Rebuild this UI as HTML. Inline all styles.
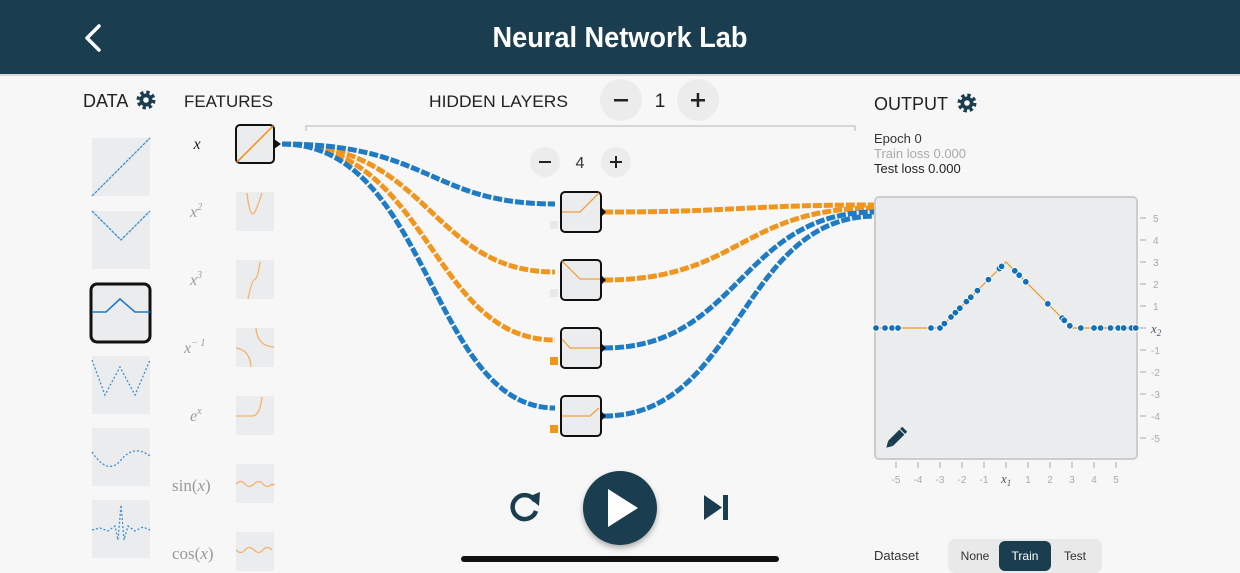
<!DOCTYPE html>
<html><head><meta charset="utf-8"><style>
html,body{margin:0;padding:0;background:#f7f7f7;}
svg{display:block;font-family:"Liberation Sans",sans-serif;}
.m{font-family:"Liberation Serif",serif;font-style:italic;fill:#999;font-size:16px;}
.t{font-size:10px;fill:#aaa;}
</style></head><body>
<svg width="1240" height="573" viewBox="0 0 1240 573" xmlns="http://www.w3.org/2000/svg">
<defs>
<g id="gear"><circle r="7.5" fill="none" stroke="#1a3d50" stroke-width="4" stroke-dasharray="3.2 2.7"/><circle r="6.5" fill="#1a3d50"/><circle r="2.8" fill="#f7f7f7"/></g>
</defs>
<rect width="1240" height="573" fill="#f7f7f7"/>
<rect width="1240" height="74" fill="#1a3d50"/>
<rect y="74" width="1240" height="2" fill="#d8d8d8"/>
<polyline points="99,26 87,38 99,50" fill="none" stroke="#fff" stroke-width="3.5" stroke-linecap="round" stroke-linejoin="round"/>
<text x="620" y="47" text-anchor="middle" fill="#fff" font-size="29" font-weight="600" textLength="255" lengthAdjust="spacingAndGlyphs">Neural Network Lab</text>

<text x="83" y="107" font-size="18" fill="#222">DATA</text>
<use href="#gear" x="146" y="100"/>
<text x="184" y="107" font-size="17" fill="#222" textLength="89" lengthAdjust="spacingAndGlyphs">FEATURES</text>
<text x="429" y="107" font-size="17" fill="#222" textLength="139" lengthAdjust="spacingAndGlyphs">HIDDEN LAYERS</text>
<circle cx="621" cy="100" r="21" fill="#ececec"/><rect x="614" y="99" width="14" height="2.5" fill="#222"/>
<text x="660" y="107" font-size="19" fill="#222" text-anchor="middle">1</text>
<circle cx="698" cy="100" r="21" fill="#ececec"/><rect x="691" y="99" width="14" height="2.5" fill="#222"/><rect x="696.7" y="93" width="2.5" height="14" fill="#222"/>
<polyline points="306,131 306,126 855,126 855,131" fill="none" stroke="#ccc" stroke-width="1.5"/>
<circle cx="545" cy="162" r="15" fill="#ececec"/><rect x="539" y="161" width="12" height="2" fill="#222"/>
<text x="580" y="168" font-size="16" fill="#333" text-anchor="middle">4</text>
<circle cx="616" cy="162" r="15" fill="#ececec"/><rect x="610" y="161" width="12" height="2" fill="#222"/><rect x="615" y="156" width="2" height="12" fill="#222"/>

<text x="874" y="110" font-size="18" fill="#222">OUTPUT</text>
<use href="#gear" x="967" y="103"/>
<text x="874" y="143" font-size="13" fill="#333">Epoch 0</text>
<text x="874" y="158" font-size="13" fill="#aaa">Train loss 0.000</text>
<text x="874" y="173" font-size="13" fill="#222">Test loss 0.000</text>

<g fill="#ebecee">
<rect x="92" y="138" width="58" height="58"/><rect x="92" y="211" width="58" height="58"/>
<rect x="92" y="356" width="58" height="58"/><rect x="92" y="428" width="58" height="58"/><rect x="92" y="500" width="58" height="58"/>
</g>
<rect x="91" y="284" width="59" height="58" rx="6" fill="#ebecee" stroke="#111" stroke-width="3"/>
<g fill="none" stroke="#3d8fd0" stroke-width="1.3" stroke-dasharray="3 1">
<polyline points="92,196 150,138"/>
<polyline points="92,211 121,240 150,211"/>
<polyline points="92,312 106,312 120,299 135,312 150,312" stroke="#1f7cc4" stroke-dasharray="none" stroke-width="1.6"/>
<polyline points="92,360 105,395 120,367 135,395 150,360" stroke-dasharray="2 2"/>
<path d="M92,452 Q108,476 121,460 T150,456" stroke-dasharray="2 2"/>
<polyline points="92,530 100,528 108,531 115,526 118,540 121,505 124,540 128,526 135,531 143,527 150,530" stroke-dasharray="2 2"/>
</g>

<text x="197" y="149" class="m" style="fill:#222" text-anchor="middle">x</text>
<text x="190" y="217" class="m">x<tspan font-size="10" dy="-7">2</tspan></text>
<text x="190" y="285" class="m">x<tspan font-size="10" dy="-7">3</tspan></text>
<text x="184" y="353" class="m">x<tspan font-size="10" dy="-7">− 1</tspan></text>
<text x="190" y="421" class="m">e<tspan font-size="10" dy="-7">x</tspan></text>
<text x="172" y="491" class="m" style="font-style:normal;font-size:17px">sin(<tspan font-style="italic">x</tspan>)</text>
<text x="172" y="559" class="m" style="font-style:normal;font-size:17px">cos(<tspan font-style="italic">x</tspan>)</text>
<g fill="#ebecee">
<rect x="236" y="192" width="38" height="39"/><rect x="236" y="260" width="38" height="39"/><rect x="236" y="328" width="38" height="39"/>
<rect x="236" y="396" width="38" height="39"/><rect x="236" y="464" width="38" height="39"/><rect x="236" y="532" width="38" height="39"/>
</g>
<rect x="236" y="125" width="38" height="38" rx="4" fill="#ebecee" stroke="#111" stroke-width="2"/>
<polygon points="274,139 281,144 274,149" fill="#111"/>
<g fill="none" stroke="#f5b26b" stroke-width="1.3">
<line x1="237" y1="162" x2="273" y2="126" stroke="#f0961e" stroke-width="1.6"/>
<path d="M247,193 Q250,220 255,212 Q260,200 262,193"/>
<path d="M248,299 Q252,280 254,280 Q258,279 260,262"/>
<path d="M236,348 Q250,350 251,367 M256,328 Q257,346 274,347"/>
<path d="M236,416 L252,416 Q260,416 262,397"/>
<path d="M236,484 q5,-5 9,0 t9,0 t9,0 t9,0 q2,2 2,0"/>
<path d="M236,550 q5,5 9,0 t9,0 t9,0 t9,0"/>
</g>

<g fill="none" stroke-width="5" stroke-dasharray="9 2">
<path d="M282,144 C430,144 430,340 555,340" stroke="#f0961e"/>
<path d="M282,144 C430,144 430,272 555,272" stroke="#f0961e"/>
<path d="M282,144 C430,144 430,408 555,408" stroke="#1f7cc4"/>
<path d="M282,144 C430,144 430,204 555,204" stroke="#1f7cc4"/>
<path d="M604,212 C740,212 740,205 876,205" stroke="#f0961e"/>
<path d="M604,280 C740,280 740,208 876,208" stroke="#f0961e"/>
<path d="M604,348 C740,348 740,212 876,212" stroke="#1f7cc4"/>
<path d="M604,416 C740,416 740,216 876,216" stroke="#1f7cc4"/>
</g>
<g fill="#ebecee" stroke="#111" stroke-width="2">
<rect x="561" y="192" width="40" height="40" rx="4"/><rect x="561" y="260" width="40" height="40" rx="4"/>
<rect x="561" y="328" width="40" height="40" rx="4"/><rect x="561" y="396" width="40" height="40" rx="4"/>
</g>
<g fill="#111"><polygon points="601,207 606,212 601,217"/><polygon points="601,275 606,280 601,285"/><polygon points="601,343 606,348 601,353"/><polygon points="601,411 606,416 601,421"/></g>
<g fill="none" stroke="#f0a040" stroke-width="1.3">
<polyline points="562,212 580,212 599,193"/>
<polyline points="562,261 580,279 600,279"/>
<polyline points="562,339 570,348 600,348"/>
<polyline points="562,416 590,416 599,408"/>
</g>
<rect x="550" y="221" width="8" height="8" fill="#e8e8e8"/><rect x="550" y="289" width="8" height="8" fill="#e8e8e8"/>
<rect x="550" y="357" width="8" height="8" fill="#f0961e"/><rect x="550" y="425" width="8" height="8" fill="#f0961e"/>

<rect x="875" y="197" width="262" height="262" rx="4" fill="#ebecee" stroke="#ccc" stroke-width="2"/>
<g stroke="#aaa" stroke-width="1">
<path d="M1140,218h6M1140,240h6M1140,262h6M1140,284h6M1140,306h6M1140,328h6M1140,350h6M1140,372h6M1140,394h6M1140,416h6M1140,438h6"/>
<path d="M896,462v6M918,462v6M940,462v6M962,462v6M984,462v6M1006,462v6M1028,462v6M1050,462v6M1072,462v6M1094,462v6M1116,462v6"/>
</g>
<g class="t">
<text x="1153" y="222">5</text><text x="1153" y="244">4</text><text x="1153" y="266">3</text><text x="1153" y="288">2</text><text x="1153" y="310">1</text>
<text x="1151" y="354">-1</text><text x="1151" y="376">-2</text><text x="1151" y="398">-3</text><text x="1151" y="420">-4</text><text x="1151" y="442">-5</text>
</g>
<text x="1151" y="333" class="m" style="fill:#556;font-size:13px">x<tspan font-size="9" dy="3">2</tspan></text>
<g class="t" text-anchor="middle">
<text x="896" y="483">-5</text><text x="918" y="483">-4</text><text x="940" y="483">-3</text><text x="962" y="483">-2</text><text x="984" y="483">-1</text>
<text x="1028" y="483">1</text><text x="1050" y="483">2</text><text x="1072" y="483">3</text><text x="1094" y="483">4</text><text x="1116" y="483">5</text>
</g>
<text x="1001" y="483" class="m" style="fill:#556;font-size:13px">x<tspan font-size="9" dy="3">1</tspan></text>
<polyline points="876,328 940,328 1006,262 1072,328 1136,328" fill="none" stroke="#f0961e" stroke-width="1.2"/>
<g fill="#1270b8" stroke="#fff" stroke-width="0.8">
<circle cx="876" cy="328" r="3.3"/><circle cx="885" cy="328" r="3.3"/><circle cx="892" cy="328" r="3.3"/><circle cx="898" cy="328" r="3.3"/>
<circle cx="931" cy="328" r="3.3"/><circle cx="940" cy="328" r="3.3"/><circle cx="944.4" cy="323.6" r="3.3"/><circle cx="951" cy="317" r="3.3"/>
<circle cx="955.4" cy="312.6" r="3.3"/><circle cx="959.8" cy="308.2" r="3.3"/><circle cx="966.4" cy="301.6" r="3.3"/><circle cx="970.8" cy="297.2" r="3.3"/>
<circle cx="977.4" cy="290.6" r="3.3"/><circle cx="988.4" cy="279.6" r="3.3"/><circle cx="999.4" cy="268.6" r="3.3"/><circle cx="1001.6" cy="266.4" r="3.3"/>
<circle cx="1014.8" cy="270.8" r="3.3"/><circle cx="1019.2" cy="275.2" r="3.3"/><circle cx="1025.8" cy="281.8" r="3.3"/><circle cx="1047.8" cy="303.8" r="3.3"/>
<circle cx="1062.1" cy="318.1" r="3.3"/><circle cx="1064.3" cy="320.3" r="3.3"/><circle cx="1069.8" cy="325.8" r="3.3"/><circle cx="1080.8" cy="328" r="3.3"/>
<circle cx="1094" cy="328" r="3.3"/><circle cx="1100.6" cy="328" r="3.3"/><circle cx="1110.5" cy="328" r="3.3"/><circle cx="1118.2" cy="328" r="3.3"/>
<circle cx="1123.7" cy="328" r="3.3"/><circle cx="1131.4" cy="328" r="3.3"/><circle cx="1135.8" cy="328" r="3.3"/>
</g>
<g transform="translate(892,442) rotate(-45)">
<rect x="-2" y="-3.5" width="16" height="7" fill="#1a3d50"/><polygon points="-2,-3.5 -2,3.5 -8,0" fill="#1a3d50"/><rect x="15" y="-3.5" width="3" height="7" fill="#1a3d50"/>
</g>

<g transform="translate(524,507)">
<path d="M11,-6 A12,12 0 1 0 12,4" fill="none" stroke="#1a3d50" stroke-width="4.5"/>
<polygon points="4,-10 16,-15 15,-1" fill="#1a3d50"/>
</g>
<circle cx="620" cy="508" r="37" fill="#1a3d50" style="filter:drop-shadow(0 3px 3px rgba(0,0,0,.3))"/>
<polygon points="608,489 608,527 638,508" fill="#fff"/>
<polygon points="704,495 704,520 722,507.5" fill="#1a3d50"/><rect x="723" y="495" width="5" height="25" fill="#1a3d50"/>
<rect x="461" y="556" width="318" height="6" rx="3" fill="#111"/>

<text x="874" y="560" font-size="13" fill="#333">Dataset</text>
<rect x="948" y="539" width="154" height="34" rx="7" fill="#e9e9e9"/>
<rect x="999" y="541" width="52" height="30" rx="6" fill="#1a3d50"/>
<text x="975" y="560" font-size="12" fill="#333" text-anchor="middle">None</text>
<text x="1025" y="560" font-size="12" fill="#fff" text-anchor="middle">Train</text>
<text x="1075" y="560" font-size="12" fill="#333" text-anchor="middle">Test</text>
</svg>
</body></html>
